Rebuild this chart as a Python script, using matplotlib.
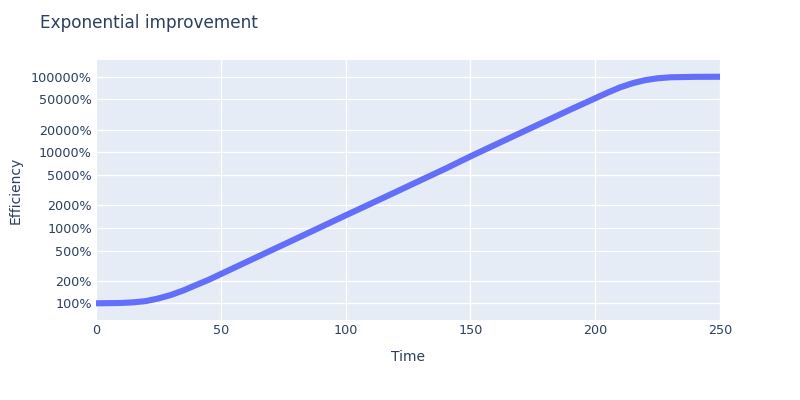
import matplotlib
matplotlib.use("Agg")
import matplotlib.pyplot as plt
from matplotlib.ticker import FixedLocator, FuncFormatter, NullLocator

# data (efficiency as a ratio, 1.0 = 100%)
time = [0, 10, 15, 20, 25, 30, 35, 40, 45, 50, 60, 70, 80, 90, 100, 110, 120,
        130, 140, 150, 160, 170, 180, 190, 200, 205, 210, 215, 220, 225,
        230, 240, 250]
efficiency = [1.00, 1.01, 1.03, 1.07, 1.16, 1.29, 1.48, 1.74, 2.04, 2.44, 3.49,
              4.99, 7.13, 10.2, 14.6, 20.8, 29.7, 42.5, 60.7, 88.1, 126,
              180, 257, 367, 519, 617, 724, 822, 902, 955, 984, 998, 1000]
y_ticks = [1, 2, 5, 10, 20, 50, 100, 200, 500, 1000]
x_ticks = [0, 50, 100, 150, 200, 250]

text_col = "#2a3f5f"
plt.rcParams["font.family"] = ["DejaVu Sans"]

fig = plt.figure(figsize=(8, 4), dpi=100)
ax = fig.add_axes([0.12, 0.2, 0.78, 0.65])
ax.set_facecolor("#e5ecf6")

ax.plot(time, efficiency, color="#636efa", lw=4.4, solid_capstyle="butt", zorder=3)

ax.set_yscale("log")
ax.set_xlim(0, 250)
ax.set_ylim(10 ** -0.221, 10 ** 3.222)

ax.yaxis.set_major_locator(FixedLocator(y_ticks))
ax.yaxis.set_minor_locator(NullLocator())
ax.yaxis.set_major_formatter(FuncFormatter(lambda v, p: "%d%%" % round(v * 100)))
ax.set_xticks(x_ticks)

ax.grid(True, color="white", lw=1, zorder=1)
ax.set_axisbelow(True)
for s in ax.spines.values():
    s.set_visible(False)
ax.tick_params(length=0, labelsize=9.2, colors=text_col, pad=3)
ax.tick_params(axis="x", pad=3)

ax.set_xlabel("Time", fontsize=10, color=text_col, labelpad=9)
ax.set_ylabel("Efficiency", fontsize=10, color=text_col, labelpad=6)
fig.text(0.05, 0.942, "Exponential improvement", fontsize=12.2,
         color=text_col, va="center", ha="left")

fig.savefig("out.png", dpi=100)
